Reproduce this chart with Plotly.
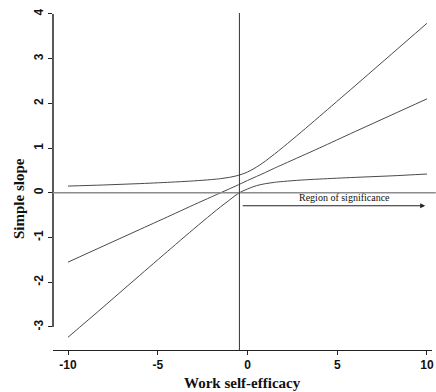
import plotly.graph_objects as go

# Data
x_vals = [-10, -8, -6, -4, -3, -2, -1.5, -1, -0.5, 0, 0.5, 1, 1.5, 2, 3, 4, 6, 8, 10]
slope_mid = [-1.55, -1.185, -0.82, -0.455, -0.27, -0.09, 0.0, 0.09, 0.18, 0.275, 0.365, 0.455, 0.55, 0.64, 0.82, 1.0, 1.37, 1.735, 2.1]
slope_upper = [0.15, 0.175, 0.205, 0.243, 0.266, 0.296, 0.316, 0.346, 0.391, 0.465, 0.574, 0.71, 0.864, 1.026, 1.36, 1.703, 2.395, 3.092, 3.79]
slope_lower = [-3.23, -2.542, -1.845, -1.153, -0.811, -0.476, -0.314, -0.161, -0.01, 0.085, 0.159, 0.204, 0.234, 0.254, 0.285, 0.307, 0.345, 0.378, 0.42]
x_ticks = [-10, -5, 0, 5, 10]
y_ticks = [-3, -2, -1, 0, 1, 2, 3, 4]
boundary_x = -0.45
arrow_y = -0.29
arrow_end = 9.9

line_col = "#4a4a4a"
fig = go.Figure()
for ys in (slope_upper, slope_mid, slope_lower):
    fig.add_trace(go.Scatter(x=x_vals, y=ys, mode="lines", line=dict(color=line_col, width=1), line_shape="spline", hoverinfo="skip"))

shapes = [
    dict(type="line", xref="paper", yref="y", x0=0, x1=0, y0=-3, y1=4, line=dict(color="#222", width=1.5)),
    dict(type="line", xref="paper", yref="y", x0=0, x1=1.01, y0=0, y1=0, line=dict(color="#8c8c8c", width=1.5)),
    dict(type="line", xref="x", yref="paper", x0=boundary_x, x1=boundary_x, y0=0, y1=1, line=dict(color="#333", width=1)),
]

annotations = [
    dict(x=arrow_end, y=arrow_y, ax=boundary_x + 0.1, ay=arrow_y, xref="x", yref="y", axref="x", ayref="y",
         showarrow=True, arrowhead=2, arrowsize=1, arrowwidth=1, arrowcolor="#222", text=""),
    dict(x=5.4, y=arrow_y, xref="x", yref="y", yanchor="bottom", yshift=1, showarrow=False,
         text="Region of significance", font=dict(family="Liberation Serif", size=10, color="#111")),
    dict(x=0.5, y=-0.098, xref="paper", yref="paper", showarrow=False, yanchor="middle",
         text="<b>Work self-efficacy</b>", font=dict(family="Liberation Serif", size=15, color="#111")),
    dict(x=-0.088, y=0.45, xref="paper", yref="paper", showarrow=False, textangle=-90, xanchor="center",
         text="<b>Simple slope</b>", font=dict(family="Liberation Serif", size=15, color="#111")),
]

fig.update_layout(
    width=436, height=392,
    margin=dict(l=53, r=4, t=13, b=42, autoexpand=False),
    plot_bgcolor="white", paper_bgcolor="white",
    showlegend=False,
    shapes=shapes, annotations=annotations,
    xaxis=dict(range=[-10.836, 10.28], tickvals=x_ticks, ticktext=[str(v) for v in x_ticks],
               showgrid=False, zeroline=False, showline=True, linecolor="#222", linewidth=1,
               ticks="outside", ticklen=4, tickcolor="#222", automargin=False,
               tickfont=dict(family="Liberation Sans", size=12, color="#111", weight="bold")),
    yaxis=dict(range=[-3.515, 4.02], tickvals=y_ticks, ticktext=[str(v) for v in y_ticks],
               showgrid=False, zeroline=False, showline=False, automargin=False,
               ticks="outside", ticklen=4, tickcolor="#222", tickangle=-90,
               tickfont=dict(family="Liberation Sans", size=12, color="#111", weight="bold")),
)

fig.write_html("out.html", config={"displayModeBar": False},
               post_script="document.body.style.margin='0';")
